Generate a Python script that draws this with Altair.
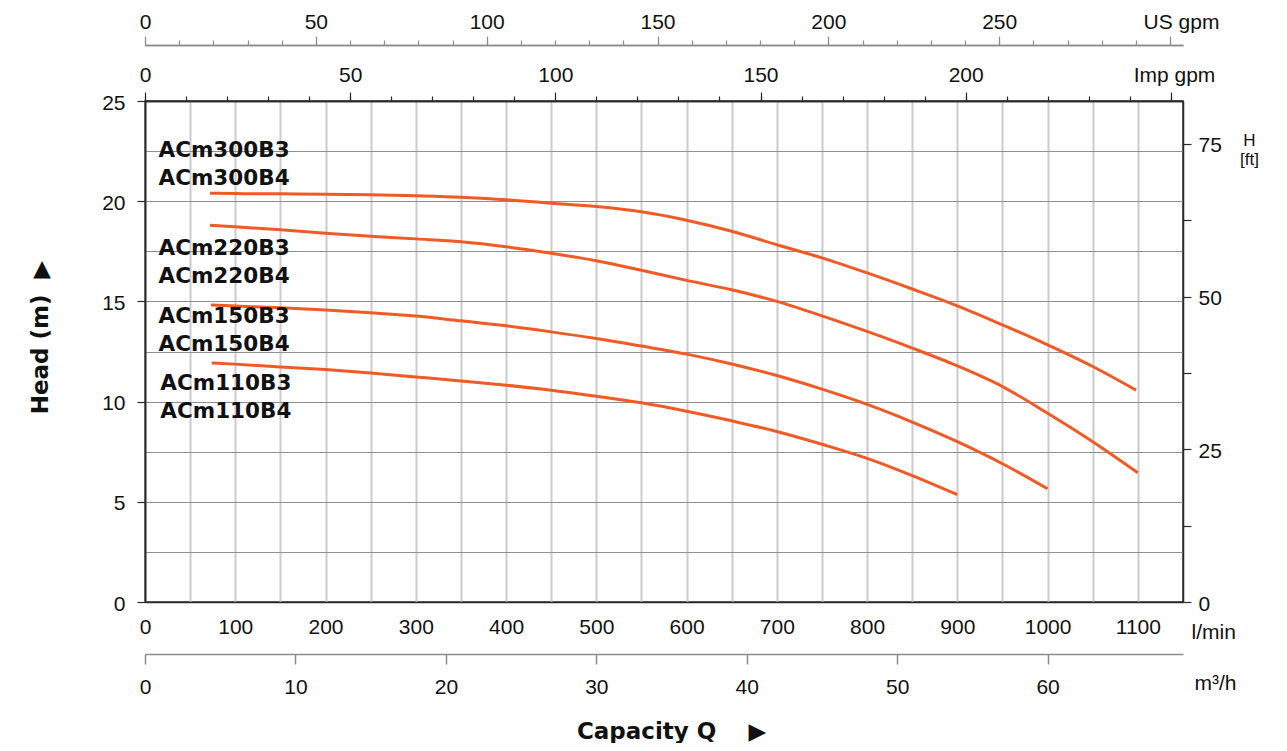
import altair as alt
import pandas as pd

# ---------------- data (Q in l/min, H in m) ----------------
q_300 = [72, 100, 150, 200, 250, 300, 350, 400, 450, 500, 550, 600, 650, 700,
         750, 800, 850, 900, 950, 1000, 1050, 1098]
h_300 = [20.40, 20.38, 20.37, 20.35, 20.32, 20.27, 20.20, 20.07, 19.90, 19.73,
         19.47, 19.05, 18.50, 17.83, 17.17, 16.42, 15.62, 14.78, 13.83, 12.83,
         11.75, 10.57]

q_220 = [72, 100, 150, 200, 250, 300, 350, 400, 450, 500, 550, 600, 650, 700,
         750, 800, 850, 900, 950, 1000, 1050, 1100]
h_220 = [18.80, 18.72, 18.57, 18.40, 18.25, 18.12, 17.98, 17.73, 17.40, 17.03,
         16.55, 16.05, 15.58, 15.00, 14.28, 13.50, 12.67, 11.78, 10.75, 9.42,
         8.00, 6.45]

q_150 = [73, 100, 150, 200, 250, 300, 350, 400, 450, 500, 550, 600, 650, 700,
         750, 800, 850, 900, 950, 1000]
h_150 = [14.82, 14.77, 14.68, 14.57, 14.43, 14.27, 14.03, 13.78, 13.48, 13.15,
         12.77, 12.37, 11.88, 11.30, 10.62, 9.86, 8.98, 8.00, 6.90, 5.65]

q_110 = [74, 100, 150, 200, 250, 300, 350, 400, 450, 500, 550, 600, 650, 700,
         750, 800, 850, 900]
h_110 = [11.93, 11.87, 11.73, 11.60, 11.43, 11.23, 11.03, 10.82, 10.57, 10.27,
         9.94, 9.52, 9.04, 8.51, 7.87, 7.17, 6.31, 5.36]

models = ["ACm300", "ACm220", "ACm150", "ACm110"]

label_text = ["ACm300B3", "ACm300B4", "ACm220B3", "ACm220B4",
              "ACm150B3", "ACm150B4", "ACm110B3", "ACm110B4"]
label_q = [15, 15, 15, 15, 15, 15, 17, 17]
label_h = [22.5, 21.1, 17.6, 16.2, 14.2, 12.8, 10.9, 9.5]

# tick values in their own units
lmin_grid = list(range(0, 1101, 50))
m3h_ticks = [0, 10, 20, 30, 40, 50, 60]
imp_major = [0, 50, 100, 150, 200, 250]
imp_labels = [0, 50, 100, 150, 200]
imp_minor = list(range(0, 251, 10))
us_major = [0, 50, 100, 150, 200, 250, 300]
us_labels = [0, 50, 100, 150, 200, 250]
us_minor = list(range(0, 301, 10))
head_grid = [0, 2.5, 5, 7.5, 10, 12.5, 15, 17.5, 20, 22.5, 25]
head_ticks = [0, 5, 10, 15, 20, 25]
ft_ticks = [0, 12.5, 25, 37.5, 50, 62.5, 75]

# unit conversions
L_PER_USGAL = 3.785411784
L_PER_IMPGAL = 4.54609
LMIN_PER_M3H = 1000.0 / 60.0
M_PER_FT = 0.3048

rows = []
for name, qs, hs in zip(models, [q_300, q_220, q_150, q_110], [h_300, h_220, h_150, h_110]):
    for q, h in zip(qs, hs):
        rows.append({"model": name, "Q": q, "H": h})
df = pd.DataFrame(rows)
lab_df = pd.DataFrame({"text": label_text, "Q": label_q, "H": label_h})

# ---------------- styling ----------------
ORANGE = "#F15A24"
DARK = "#2a2a2a"
GREY = "#8c8c8c"
AX_FONT = "Liberation Sans"
BOLD_FONT = "DejaVu Sans"
NB = "\u00a0"

XS = alt.Scale(domain=[0, 1150], nice=False, zero=False)
YS = alt.Scale(domain=[0, 25], nice=False, zero=False)


def ax(**kw):
    base = dict(labelFont=AX_FONT, labelFontSize=21, labelColor="#111111",
                titleFont=AX_FONT, titleFontSize=21, titleFontWeight="normal",
                titleColor="#111111", grid=False, labelFlush=False,
                labelOverlap=False)
    base.update(kw)
    return alt.Axis(**base)


def unit_label_expr(factor, max_label):
    return (f"datum.value / {factor} <= {max_label} + 0.01 ? "
            f"format(round(datum.value / {factor}), 'd') : ''")


# L1: curves, l/min axis with vertical grid, horizontal grid
curves = alt.Chart(df).mark_line(
    color=ORANGE, strokeWidth=3, interpolate="monotone"
).encode(
    x=alt.X("Q:Q", scale=XS, axis=ax(
        orient="bottom", values=lmin_grid, format="d",
        labelExpr="datum.value % 100 === 0 ? datum.label : ''",
        ticks=False, tickSize=0, labelPadding=14,
        grid=True, gridColor="#cbcbcb", gridWidth=2,
        domainColor=DARK, domainWidth=1.5,
        title="l/min", titleAngle=0, titleAlign="left", titleBaseline="alphabetic",
        titleX=1046, titleY=36)),
    y=alt.Y("H:Q", scale=YS, axis=alt.Axis(
        orient="left", values=head_grid, grid=True, gridColor="#8f8f8f",
        gridWidth=1.2, labels=False, ticks=False, domainColor=DARK,
        domainWidth=1.5, title=None)),
    detail="model:N",
)

ghost = alt.Chart(df).mark_point(opacity=0)

# L2: m3/h axis
m3h_layer = ghost.encode(
    x=alt.X("Q:Q", scale=XS, axis=ax(
        orient="bottom", offset=52,
        values=[v * LMIN_PER_M3H for v in m3h_ticks],
        labelExpr="format(round(datum.value * 0.06), 'd')",
        tickSize=10, tickColor=GREY, tickWidth=1.5,
        domainColor=GREY, domainWidth=1.5, labelPadding=12,
        title="m³/h", titleAngle=0, titleAlign="left", titleBaseline="alphabetic",
        titleX=1049, titleY=35)),
    y=alt.Y("H:Q", scale=YS, axis=None),
)

# L3: Imp gpm minor ticks + Head (m) labelled axis
imp_minor_layer = ghost.encode(
    x=alt.X("Q:Q", scale=XS, axis=ax(
        orient="top", values=[v * L_PER_IMPGAL for v in imp_minor],
        labels=False, tickSize=5, tickColor=DARK, tickWidth=1.2,
        domainColor=DARK, domainWidth=1.5, title=None)),
    y=alt.Y("H:Q", scale=YS, axis=ax(
        orient="left", values=head_ticks, tickSize=8, tickColor=DARK,
        tickWidth=1.2, labelPadding=12, labelOffset=2,
        domainColor=DARK, domainWidth=1.5,
        title=f"Head (m){NB}{NB}▶", titleFont=BOLD_FONT,
        titleFontWeight="bold", titleFontSize=23, titleAngle=270,
        titleAlign="center", titleBaseline="middle", titleX=-105, titleY=236)),
)

# L4: Imp gpm major ticks + right axis in feet
imp_major_layer = ghost.encode(
    x=alt.X("Q:Q", scale=XS, axis=ax(
        orient="top", values=[v * L_PER_IMPGAL for v in imp_major],
        labelExpr=unit_label_expr(L_PER_IMPGAL, max(imp_labels)),
        tickSize=9, tickColor=DARK, tickWidth=1.2, labelPadding=7,
        domainColor=DARK, domainWidth=1.5,
        title="Imp gpm", titleAngle=0, titleAlign="center",
        titleBaseline="alphabetic", titleX=1029, titleY=-20)),
    y=alt.Y("H:Q", scale=YS, axis=ax(
        orient="right", values=[v * M_PER_FT for v in ft_ticks],
        labelExpr="abs(datum.value / 0.3048 / 25 - round(datum.value / 0.3048 / 25)) < 0.001 ? format(round(datum.value / 0.3048), 'd') : ''",
        tickSize=8, tickColor=DARK, tickWidth=1.2, labelPadding=7,
        labelOffset=2, domainColor=DARK, domainWidth=1.5,
        title=["H", "[ft]"], titleFontSize=17, titleAngle=0,
        titleAlign="center", titleBaseline="top", titleLineHeight=19,
        titleX=66, titleY=31)),
)

# L5: US gpm minor ticks
us_minor_layer = ghost.encode(
    x=alt.X("Q:Q", scale=XS, axis=ax(
        orient="top", offset=56, values=[v * L_PER_USGAL for v in us_minor],
        labels=False, tickSize=5, tickColor=GREY, tickWidth=1.2,
        domainColor=GREY, domainWidth=1.5, title=None)),
    y=alt.Y("H:Q", scale=YS, axis=None),
)

# L6: US gpm major ticks
us_major_layer = ghost.encode(
    x=alt.X("Q:Q", scale=XS, axis=ax(
        orient="top", offset=56, values=[v * L_PER_USGAL for v in us_major],
        labelExpr=unit_label_expr(L_PER_USGAL, max(us_labels)),
        tickSize=9, tickColor=GREY, tickWidth=1.2, labelPadding=4,
        domainColor=GREY, domainWidth=1.5,
        title="US gpm", titleAngle=0, titleAlign="center",
        titleBaseline="alphabetic", titleX=1036, titleY=-17)),
    y=alt.Y("H:Q", scale=YS, axis=None),
)

# L7: Capacity Q title
cap_layer = ghost.encode(
    x=alt.X("Q:Q", scale=XS, axis=alt.Axis(
        orient="bottom", labels=False, ticks=False, domain=False, grid=False,
        title=f"Capacity Q{NB}{NB}{NB}{NB}▶", titleFont=BOLD_FONT,
        titleFontWeight="bold", titleFontSize=23, titleColor="#111111",
        titleAngle=0, titleAlign="center", titleBaseline="middle",
        titleX=526, titleY=129)),
    y=alt.Y("H:Q", scale=YS, axis=None),
)

# L8: model labels
labels = alt.Chart(lab_df).mark_text(
    align="left", baseline="middle", font=BOLD_FONT, fontWeight="bold",
    fontSize=21.5, color="#111111"
).encode(
    x=alt.X("Q:Q", scale=XS, axis=None),
    y=alt.Y("H:Q", scale=YS, axis=None),
    text="text:N",
)

chart = alt.layer(
    curves, m3h_layer, imp_minor_layer, imp_major_layer,
    us_minor_layer, us_major_layer, cap_layer, labels
).resolve_axis(
    x="independent", y="independent"
).properties(
    width=1038, height=501,
    padding={"left": 137, "top": 93, "right": 92, "bottom": 141},
    autosize=alt.AutoSizeParams(type="none"),
    background="white",
).configure_view(
    stroke=DARK, strokeWidth=1.5
)

chart.save("out.html", embed_options={"renderer": "svg", "actions": False})
